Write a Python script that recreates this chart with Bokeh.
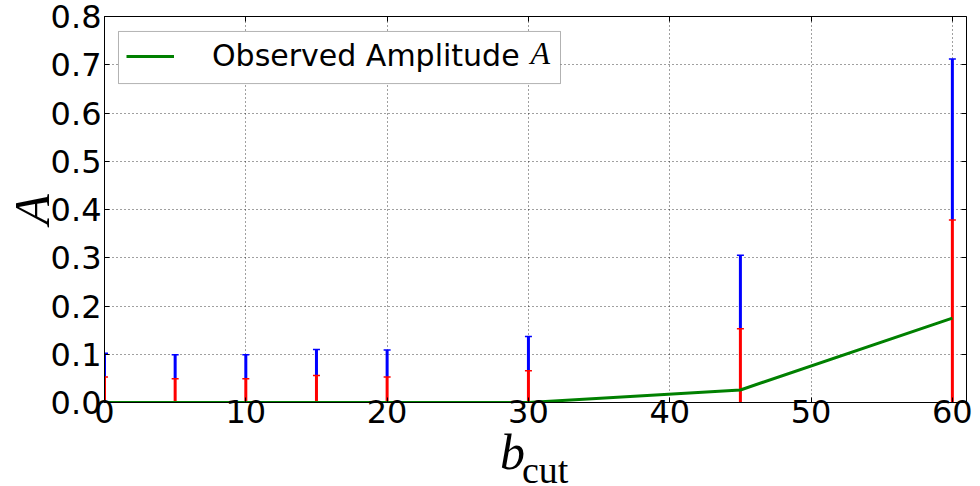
from bokeh.plotting import figure
from bokeh.layouts import column
from bokeh.models import (ColumnDataSource, FixedTicker, NumeralTickFormatter, Legend,
                          LegendItem, Label, LinearAxis, Range1d, BoxAnnotation, Div)
from bokeh.embed import file_html
from bokeh.resources import INLINE

# ---- data ----
b_cut = [0, 5, 10, 15, 20, 30, 45, 60]
amplitude = [0.0, 0.0, 0.0, 0.0, 0.0, 0.0, 0.026, 0.175]
limit_low = [0.053, 0.049, 0.049, 0.056, 0.053, 0.066, 0.153, 0.378]
limit_high = [0.102, 0.099, 0.099, 0.110, 0.109, 0.137, 0.305, 0.712]
zeros = [0.0] * len(b_cut)

x_ticks = [0, 10, 20, 30, 40, 50, 60]
y_ticks = [0.0, 0.1, 0.2, 0.3, 0.4, 0.5, 0.6, 0.7, 0.8]

src = ColumnDataSource(dict(x=b_cut, amp=amplitude, lo=limit_low, hi=limit_high, z=zeros))

p = figure(width=980, height=436, output_backend="svg", toolbar_location=None,
           x_range=Range1d(0, 61), y_range=Range1d(0, 0.8),
           min_border_left=104, min_border_right=14, min_border_top=16, min_border_bottom=34)

p.background_fill_color = "white"
p.border_fill_color = "white"
p.outline_line_color = "black"
p.outline_line_width = 1

TICK_FONT = "DejaVu Sans"
for ax in (p.xaxis[0], p.yaxis[0]):
    ax.major_label_text_font = TICK_FONT
    ax.major_label_text_font_size = "32px"
    ax.major_label_text_color = "black"
    ax.major_tick_in = 5
    ax.major_tick_out = 0
    ax.minor_tick_line_color = None
    ax.axis_line_color = "black"
    ax.major_tick_line_color = "black"

p.xaxis[0].ticker = FixedTicker(ticks=x_ticks)
p.yaxis[0].ticker = FixedTicker(ticks=y_ticks)
p.yaxis[0].formatter = NumeralTickFormatter(format="0.0")
p.xaxis[0].major_label_standoff = -3
p.yaxis[0].major_label_standoff = 3

# y-axis title: italic A
p.yaxis[0].axis_label = "A"
p.yaxis[0].axis_label_text_font = "Liberation Serif"
p.yaxis[0].axis_label_text_font_style = "italic"
p.yaxis[0].axis_label_text_font_size = "50px"
p.yaxis[0].axis_label_text_color = "black"
p.yaxis[0].axis_label_standoff = -12

# mirrored ticks on top and right (no labels)
top_ax = LinearAxis(ticker=FixedTicker(ticks=x_ticks), major_label_text_font_size="1px",
                    major_label_text_color=None,
                    major_tick_in=5, major_tick_out=0, minor_tick_line_color=None,
                    axis_line_color=None, major_label_standoff=0)
right_ax = LinearAxis(ticker=FixedTicker(ticks=y_ticks), major_label_text_font_size="1px",
                      major_label_text_color=None,
                      major_tick_in=5, major_tick_out=0, minor_tick_line_color=None,
                      axis_line_color=None, major_label_standoff=0)
p.add_layout(top_ax, "above")
p.add_layout(right_ax, "right")

for g in (p.xgrid[0], p.ygrid[0]):
    g.grid_line_color = "black"
    g.grid_line_alpha = 0.75
    g.grid_line_dash = "1 3"
    g.grid_line_width = 1
p.xgrid[0].ticker = FixedTicker(ticks=x_ticks)
p.ygrid[0].ticker = FixedTicker(ticks=y_ticks)

# legend frame (white box over the grid)
p.add_layout(BoxAnnotation(left=0.99, right=32.27, top=0.769, bottom=0.661,
                           fill_color="white", fill_alpha=1.0,
                           line_color="black", line_width=1, level="underlay"))

# error bars: red from 0 to low limit, blue from low to high limit
p.segment(x0="x", y0="z", x1="x", y1="lo", source=src, line_color="#ff0000", line_width=3)
p.segment(x0="x", y0="lo", x1="x", y1="hi", source=src, line_color="#0000ff", line_width=3)
p.scatter(x="x", y="lo", source=src, marker="dash", size=7, line_color="#ff0000", line_width=1.5)
p.scatter(x="x", y="hi", source=src, marker="dash", size=7, line_color="#0000ff", line_width=1.5)

line = p.line(x="x", y="amp", source=src, line_color="#008000", line_width=3)

legend = Legend(items=[LegendItem(label="Observed Amplitude", renderers=[line])],
                location="top_left", margin=22, padding=8, spacing=0,
                glyph_width=48, glyph_height=32, label_standoff=38, label_height=32,
                label_text_font="DejaVu Sans", label_text_font_size="30px",
                label_text_color="black",
                border_line_color=None, background_fill_alpha=0)
p.add_layout(legend)

# italic A in legend
p.add_layout(Label(x=30.15, y=0.724, text="A", text_font="Liberation Serif",
                   text_font_style="italic", text_font_size="32px", text_color="black",
                   text_align="left", text_baseline="alphabetic", level="overlay"))

# x-axis title: italic b with roman subscript "cut"
xtitle = Div(
    text=('<div style="position:relative;width:980px;height:50px;">'
          '<span style="position:absolute;left:500px;top:0px;font-family:\'Liberation Serif\';'
          'font-style:italic;font-size:50px;line-height:32px;color:black;">b</span>'
          '<span style="position:absolute;left:522px;top:19px;font-family:\'Liberation Serif\';'
          'font-size:38px;line-height:30px;color:black;">cut</span></div>'),
    width=980, height=50, margin=0)

layout = column(p, xtitle, spacing=0)

open("out.html", "w").write(file_html(layout, INLINE))
